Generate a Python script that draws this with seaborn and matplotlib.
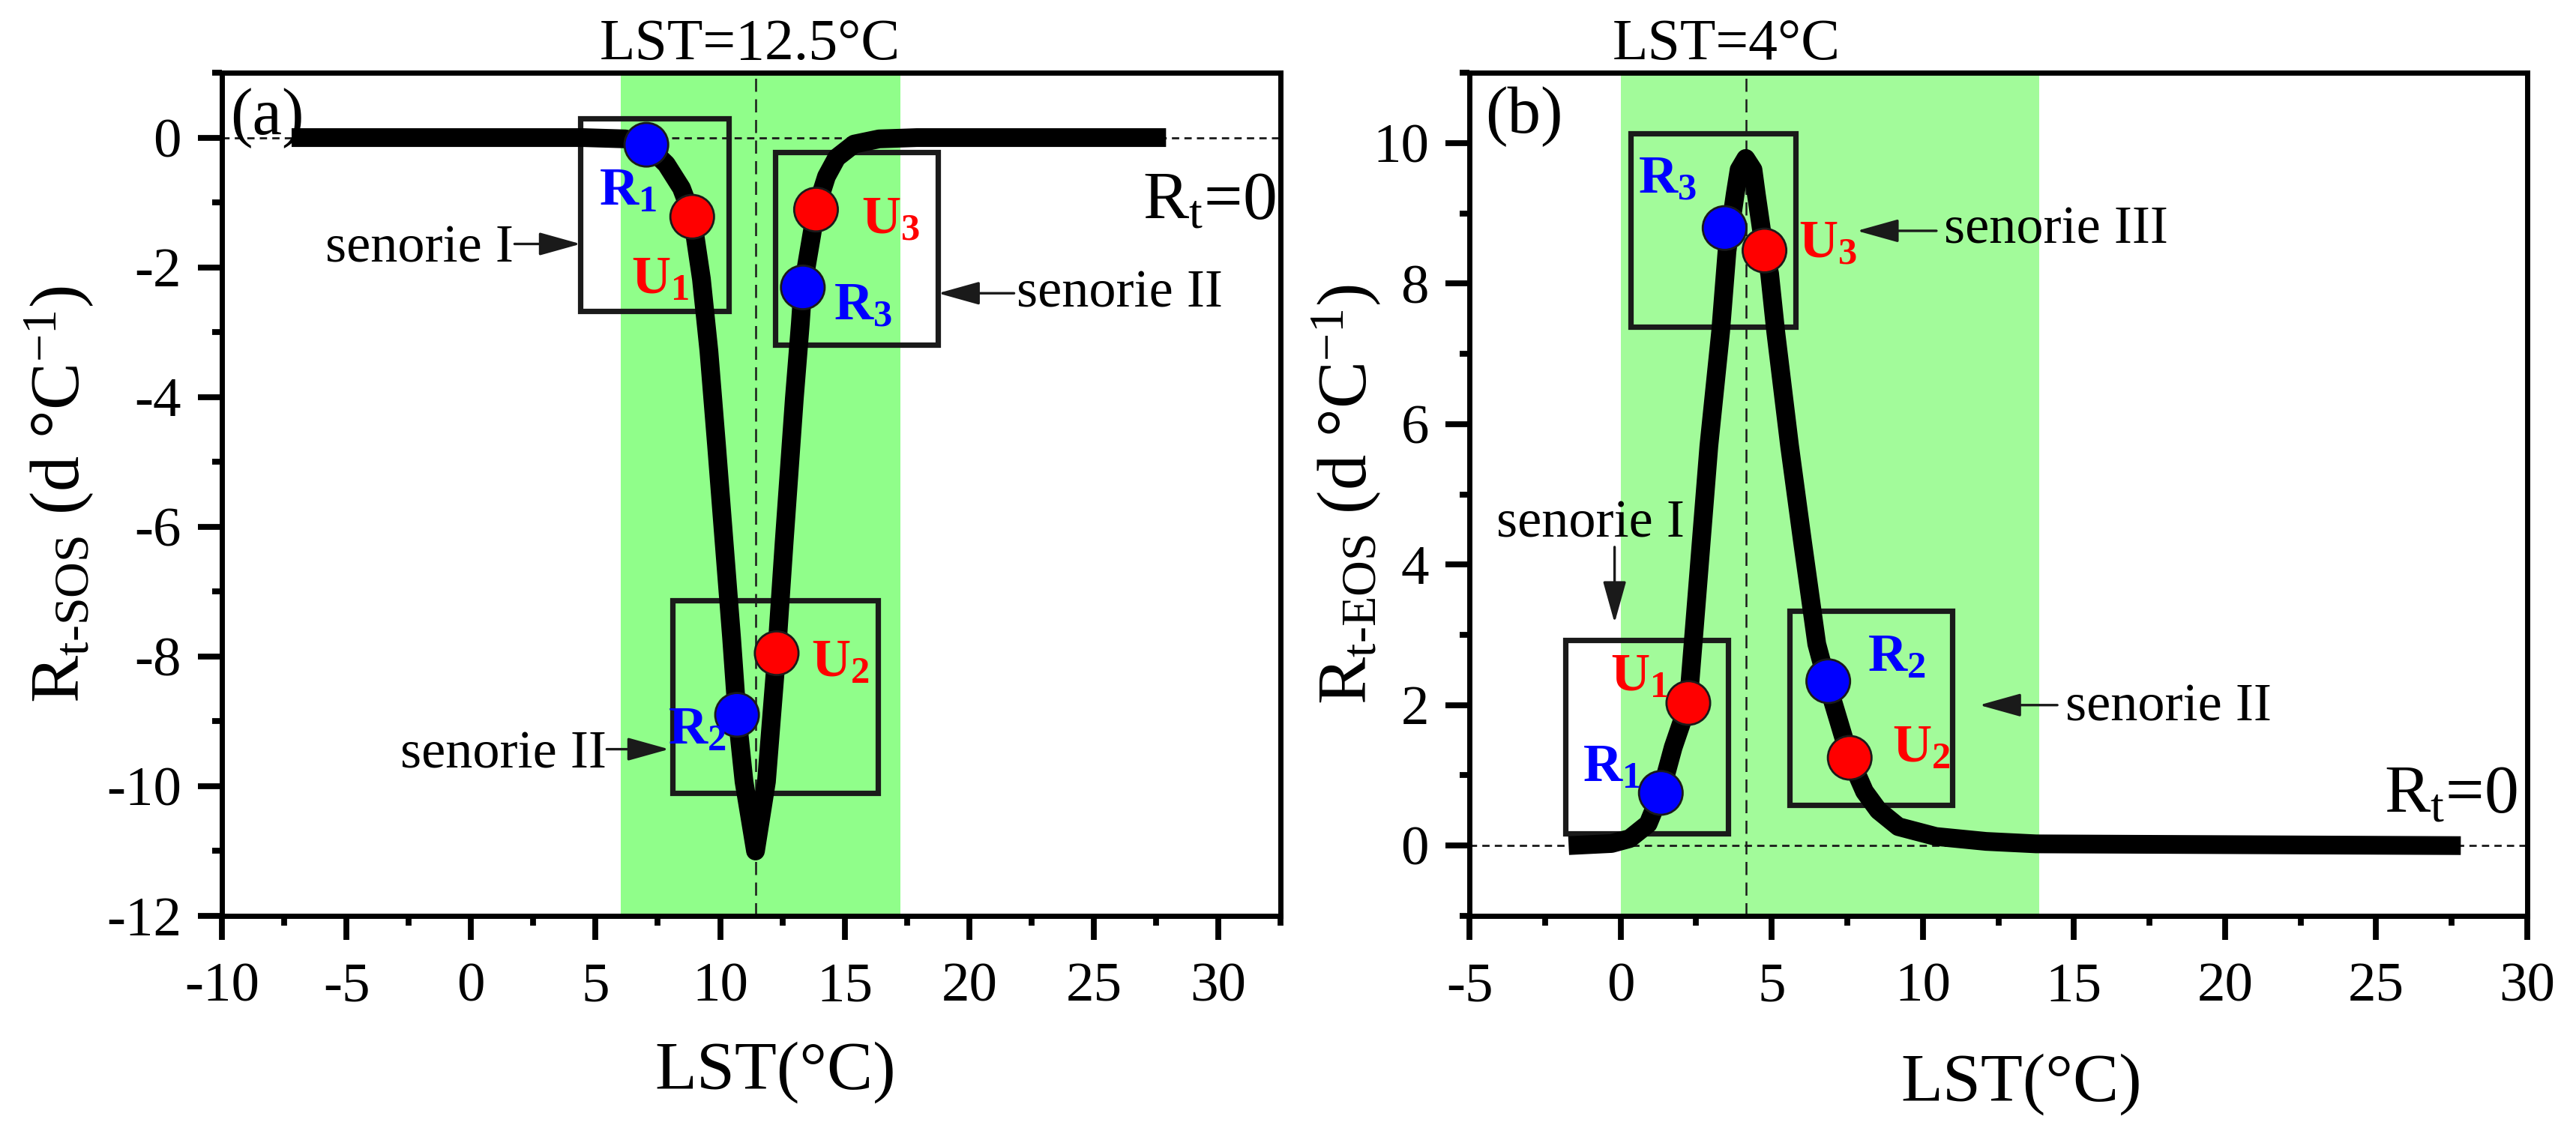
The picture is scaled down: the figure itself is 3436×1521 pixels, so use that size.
import matplotlib
matplotlib.use("Agg")
import matplotlib.pyplot as plt
import matplotlib.patches as patches
from matplotlib.ticker import MultipleLocator
import seaborn as sns

# ---------------- data ----------------

# (a) response of SOS to LST
sos_lst = [-7.2, 4.5, 6.2, 7.04, 7.84, 8.45, 8.88, 9.25, 9.55, 9.86, 10.16, 10.46,
           10.68, 10.96, 11.42, 11.86, 12.27, 12.57, 12.98, 13.22, 13.32, 13.85,
           14.27, 14.68, 15.38, 16.38, 17.9, 27.9]
sos_rt = [0, 0, -0.02, -0.11, -0.41, -0.78, -1.22, -2.18, -3.29, -4.76, -6.24, -7.71,
          -8.90, -9.93, -11.0, -9.93, -7.95, -6.24, -4.02, -2.87, -2.31, -1.11,
          -0.60, -0.31, -0.10, -0.02, 0.0, 0.0]

# (b) response of EOS to LST
eos_lst = [-1.72, -0.3, 0.3, 0.91, 1.33, 1.74, 2.24, 2.54, 2.92, 3.31, 3.52, 3.79,
           3.92, 4.14, 4.38, 4.49, 4.76, 4.93, 5.13, 5.59, 6.02, 6.49, 6.82, 7.58,
           8.07, 8.53, 9.19, 10.43, 12.09, 13.75, 27.8]
eos_rt = [0, 0.03, 0.1, 0.31, 0.75, 1.40, 2.03, 3.64, 5.69, 7.32, 8.46, 9.27,
          9.62, 9.78, 9.62, 9.27, 8.47, 8.14, 7.32, 5.69, 4.32, 2.87, 2.34, 1.25,
          0.77, 0.50, 0.27, 0.13, 0.06, 0.025, 0]

# marked points
pt_kind = ["R", "U", "R", "U", "R", "U"]
pt_num = ["1", "1", "2", "2", "3", "3"]
sos_pt_lst = [7.04, 8.88, 10.68, 12.27, 13.32, 13.85]
sos_pt_rt = [-0.11, -1.22, -8.90, -7.95, -2.31, -1.11]
eos_pt_lst = [1.33, 2.24, 6.87, 7.58, 3.44, 4.76]
eos_pt_rt = [0.75, 2.03, 2.34, 1.25, 8.79, 8.47]

# threshold temperatures and shaded ranges
sos_thr, eos_thr = 11.42, 4.15
sos_band = (6.0, 17.25)
eos_band = (0.0, 13.85)

# scenario boxes (x0, x1, y0, y1)
sos_boxes = [(4.4, 10.35, -2.68, 0.29), (12.22, 18.75, -3.19, -0.22), (8.08, 16.34, -10.11, -7.14)]
eos_boxes = [(0.33, 5.8, 7.38, 10.14), (-1.82, 3.56, 0.17, 2.93), (5.59, 10.97, 0.58, 3.34)]

# ---------------- style ----------------
sns.set_theme(style="ticks")
plt.rcParams["font.family"] = ["Liberation Serif", "DejaVu Serif"]
plt.rcParams["mathtext.fontset"] = "custom"
plt.rcParams["mathtext.rm"] = "Liberation Serif"
plt.rcParams["mathtext.it"] = "Liberation Serif:italic"
plt.rcParams["mathtext.bf"] = "Liberation Serif:bold"
plt.rcParams["axes.unicode_minus"] = False
for k in ["text.color", "axes.edgecolor", "axes.labelcolor", "xtick.color", "ytick.color"]:
    plt.rcParams[k] = "black"

COL = {"R": "#0000FF", "U": "#FF0000"}

fig = plt.figure(figsize=(17.185, 7.605), dpi=200)
ax1 = fig.add_axes([0.0861, 0.1966, 0.4109, 0.7396])
ax2 = fig.add_axes([0.5703, 0.1966, 0.4105, 0.7396])


def style_axis(ax, xlim, ylim, ystep):
    ax.set_xlim(*xlim)
    ax.set_ylim(*ylim)
    ax.xaxis.set_major_locator(MultipleLocator(5))
    ax.xaxis.set_minor_locator(MultipleLocator(2.5))
    ax.yaxis.set_major_locator(MultipleLocator(ystep))
    ax.yaxis.set_minor_locator(MultipleLocator(ystep / 2))
    for s in ax.spines.values():
        s.set_linewidth(2.5)
        s.set_visible(True)
    ax.tick_params(which="both", direction="out", top=False, right=False, width=2.8)
    ax.tick_params(which="major", length=11.5, labelsize=27)
    ax.tick_params(which="minor", length=4.8)
    ax.tick_params(axis="x", which="major", pad=11)
    ax.tick_params(axis="y", which="major", pad=8)


def draw_panel(ax, lst, rt, pt_x, pt_y, band, thr, boxes, band_col):
    ax.axvspan(band[0], band[1], color=band_col, lw=0, zorder=0)
    ax.axvline(thr, color="k", lw=0.9, ls=(0, (7, 4)), zorder=1)
    ax.axhline(0, color="k", lw=1.0, ls=(0, (3.5, 2.5)), zorder=1)
    for x0, x1, y0, y1 in boxes:
        ax.add_patch(patches.Rectangle((x0, y0), x1 - x0, y1 - y0, fill=False,
                                       ec="k", lw=2.6, zorder=2))
    sns.lineplot(x=lst, y=rt, ax=ax, color="black", linewidth=9, estimator=None,
                 sort=False, solid_capstyle="butt", solid_joinstyle="round", zorder=3)
    sns.scatterplot(x=pt_x, y=pt_y, hue=pt_kind, palette=COL, s=440, ax=ax,
                    edgecolor="k", linewidth=1, legend=False, zorder=5)


def arrow(ax, tail, tip):
    ax.annotate("", xy=tip, xytext=tail,
                arrowprops=dict(arrowstyle="-|>,head_length=0.43,head_width=0.12",
                                mutation_scale=40, color="k", lw=1.2,
                                shrinkA=0, shrinkB=0), zorder=4)


def point_labels(ax, pos):
    for (x, y), k, n in zip(pos, pt_kind, pt_num):
        ax.text(x, y, r"$\mathbf{%s}_{\mathbf{%s}}$" % (k, n), color=COL[k],
                fontsize=26, ha="left", va="baseline", zorder=6)


# ---------------- (a) ----------------
style_axis(ax1, (-10, 32.5), (-12, 1), 2)
draw_panel(ax1, sos_lst, sos_rt, sos_pt_lst, sos_pt_rt, sos_band, sos_thr, sos_boxes, "#90FE8A")
point_labels(ax1, [(5.13, -1.03), (6.43, -2.4), (7.9, -9.34), (13.66, -8.3),
                   (14.57, -2.81), (15.68, -1.48)])
ax1.text(1.7, -1.92, "senorie I", fontsize=26, ha="right", va="baseline")
arrow(ax1, (1.75, -1.64), (4.4, -1.64))
ax1.text(21.9, -2.61, "senorie II", fontsize=26, ha="left", va="baseline")
arrow(ax1, (21.8, -2.4), (18.75, -2.4))
ax1.text(5.43, -9.72, "senorie II", fontsize=26, ha="right", va="baseline")
arrow(ax1, (5.45, -9.43), (7.95, -9.43))
ax1.text(32.3, -1.25, r"R$_{\rm t}$=0", fontsize=33, ha="right", va="baseline")
ax1.text(0.008, 0.982, "(a)", transform=ax1.transAxes, fontsize=32, ha="left", va="top")
ax1.text(11.21, 1.016, "LST=12.5°C", transform=ax1.get_xaxis_transform(),
         fontsize=28, ha="center", va="baseline")
ax1.set_xlabel("LST(°C)", fontsize=33)
ax1.set_ylabel(r"R$_{\rm t\text{-}SOS}$ (d °C$^{-1}$)", fontsize=34)
ax1.xaxis.set_label_coords(0.523, -0.149)
ax1.yaxis.set_label_coords(-0.119, 0.5)

# ---------------- (b) ----------------
style_axis(ax2, (-5, 30), (-1, 11), 2)
draw_panel(ax2, eos_lst, eos_rt, eos_pt_lst, eos_pt_rt, eos_band, eos_thr, eos_boxes, "#A2FB9A")
point_labels(ax2, [(-1.26, 0.92), (-0.33, 2.21), (8.16, 2.49), (8.99, 1.2),
                   (0.58, 9.29), (5.88, 8.37)])
ax2.text(-0.99, 4.39, "senorie I", fontsize=26, ha="center", va="baseline")
arrow(ax2, (-0.2, 4.25), (-0.2, 3.17))
ax2.text(10.7, 8.57, "senorie III", fontsize=26, ha="left", va="baseline")
arrow(ax2, (10.45, 8.75), (7.82, 8.75))
ax2.text(14.72, 1.78, "senorie II", fontsize=26, ha="left", va="baseline")
arrow(ax2, (14.45, 2.0), (11.87, 2.0))
ax2.text(29.67, 0.47, r"R$_{\rm t}$=0", fontsize=33, ha="right", va="baseline")
ax2.text(0.015, 0.984, "(b)", transform=ax2.transAxes, fontsize=32, ha="left", va="top")
ax2.text(3.5, 1.016, "LST=4°C", transform=ax2.get_xaxis_transform(),
         fontsize=28, ha="center", va="baseline")
ax2.set_xlabel("LST(°C)", fontsize=33)
ax2.set_ylabel(r"R$_{\rm t\text{-}EOS}$ (d °C$^{-1}$)", fontsize=34)
ax2.xaxis.set_label_coords(0.522, -0.163)
ax2.yaxis.set_label_coords(-0.0815, 0.5)

fig.savefig("out.png", dpi=200)
